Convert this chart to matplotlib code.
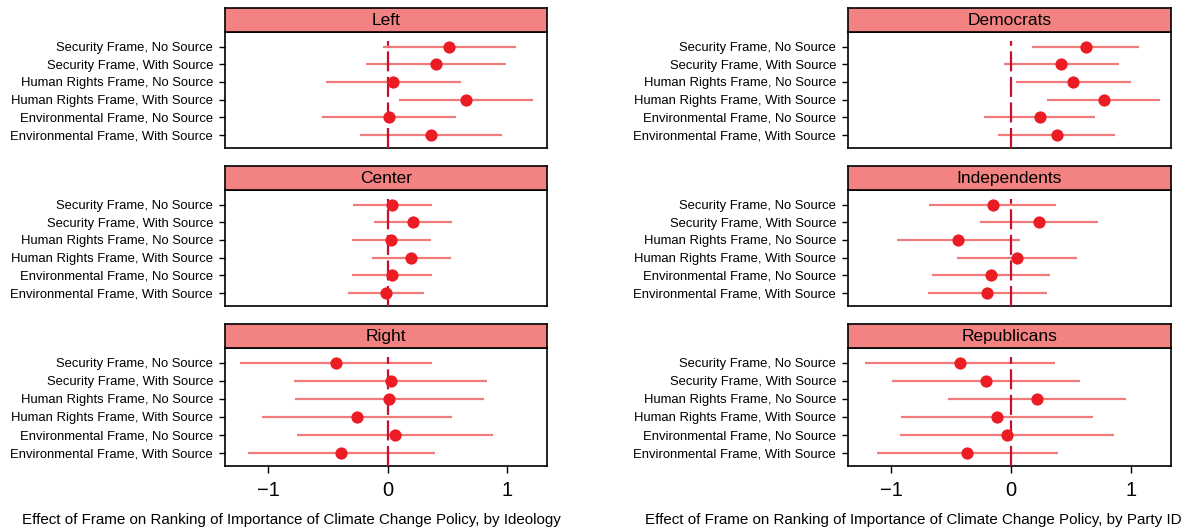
import matplotlib
matplotlib.use("Agg")
import matplotlib.pyplot as plt

plt.rcParams['font.family'] = ['Liberation Sans', 'DejaVu Sans']

frames = ["Security Frame, No Source", "Security Frame, With Source",
          "Human Rights Frame, No Source", "Human Rights Frame, With Source",
          "Environmental Frame, No Source", "Environmental Frame, With Source"]

# ideology panels
left_est = [0.508, 0.406, 0.044, 0.653, 0.011, 0.361]
left_lo = [-0.044, -0.18, -0.52, 0.097, -0.553, -0.23]
left_hi = [1.069, 0.99, 0.614, 1.217, 0.569, 0.958]

center_est = [0.036, 0.214, 0.028, 0.197, 0.033, -0.017]
center_lo = [-0.294, -0.114, -0.30, -0.131, -0.30, -0.336]
center_hi = [0.367, 0.539, 0.358, 0.531, 0.369, 0.306]

right_est = [-0.436, 0.025, 0.014, -0.256, 0.064, -0.389]
right_lo = [-1.236, -0.786, -0.778, -1.05, -0.758, -1.169]
right_hi = [0.369, 0.828, 0.806, 0.539, 0.881, 0.392]

# party panels
dem_est = [0.619, 0.417, 0.517, 0.769, 0.236, 0.378]
dem_lo = [0.172, -0.058, 0.039, 0.294, -0.231, -0.108]
dem_hi = [1.061, 0.894, 0.994, 1.236, 0.694, 0.861]

ind_est = [-0.156, 0.233, -0.444, 0.05, -0.169, -0.20]
ind_lo = [-0.689, -0.258, -0.956, -0.453, -0.658, -0.692]
ind_hi = [0.372, 0.722, 0.075, 0.55, 0.319, 0.297]

rep_est = [-0.428, -0.208, 0.214, -0.119, -0.039, -0.369]
rep_lo = [-1.222, -0.994, -0.531, -0.919, -0.928, -1.122]
rep_hi = [0.361, 0.575, 0.958, 0.681, 0.858, 0.389]

columns = [
    ([("Left", left_est, left_lo, left_hi),
      ("Center", center_est, center_lo, center_hi),
      ("Right", right_est, right_lo, right_hi)],
     "Effect of Frame on Ranking of Importance of Climate Change Policy, by Ideology"),
    ([("Democrats", dem_est, dem_lo, dem_hi),
      ("Independents", ind_est, ind_lo, ind_hi),
      ("Republicans", rep_est, rep_lo, rep_hi)],
     "Effect of Frame on Ranking of Importance of Climate Change Policy, by Party ID"),
]

W, H = 1198, 531
fig = plt.figure(figsize=(W / 100, H / 100), dpi=100)

col_x = [(225, 547), (848, 1171)]
label_x = [291, 913]
strips = [(8, 32), (166, 190), (324, 348)]
boxes = [(32, 148), (190, 306), (348, 466)]

strip_col = '#F38282'
dot_col = '#EC1C24'
ci_col = '#F37A7A'
zero_col = '#C8102E'

ys = list(range(1, len(frames) + 1))

for c, (panels, xlabel) in enumerate(columns):
    x0, x1 = col_x[c]
    for r, (title, est, lo, hi) in enumerate(panels):
        by0, by1 = boxes[r]
        ax = fig.add_axes([x0 / W, 1 - by1 / H, (x1 - x0) / W, (by1 - by0) / H])
        ax.hlines(ys, lo, hi, color=ci_col, lw=1.6, zorder=2)
        ax.axvline(0, ymin=0, ymax=(6.75 - 0.68) / (6.75 - 0.17), color=zero_col,
                   lw=1.6, dashes=(9, 2.5), zorder=3)
        ax.plot(est, ys, 'o', color=dot_col, ms=8.8, mec='none', zorder=4)
        ax.set_xlim(-1.36, 1.33)
        ax.set_ylim(6.75, 0.17)
        ax.set_yticks(ys)
        ax.set_yticklabels(frames, fontsize=9.4)
        ax.tick_params(axis='y', length=4, width=1, pad=4.5)
        ax.set_xticks([-1, 0, 1])
        if r == 2:
            ax.set_xticklabels(['\u22121', '0', '1'], fontsize=14.5)
            ax.tick_params(axis='x', length=5, width=1, pad=6)
        else:
            ax.tick_params(axis='x', length=0, labelbottom=False)
        for s in ax.spines.values():
            s.set_linewidth(1.2)

        sy0, sy1 = strips[r]
        sax = fig.add_axes([x0 / W, 1 - sy1 / H, (x1 - x0) / W, (sy1 - sy0) / H])
        sax.set_facecolor(strip_col)
        sax.set_xticks([])
        sax.set_yticks([])
        for s in sax.spines.values():
            s.set_linewidth(1.2)
        sax.text(0.5, 0.48, title, ha='center', va='center', fontsize=12.5,
                 transform=sax.transAxes)

    fig.text(label_x[c] / W, 1 - 520 / H, xlabel, ha='center', va='center', fontsize=10.9)

fig.savefig("out.png", dpi=100)
